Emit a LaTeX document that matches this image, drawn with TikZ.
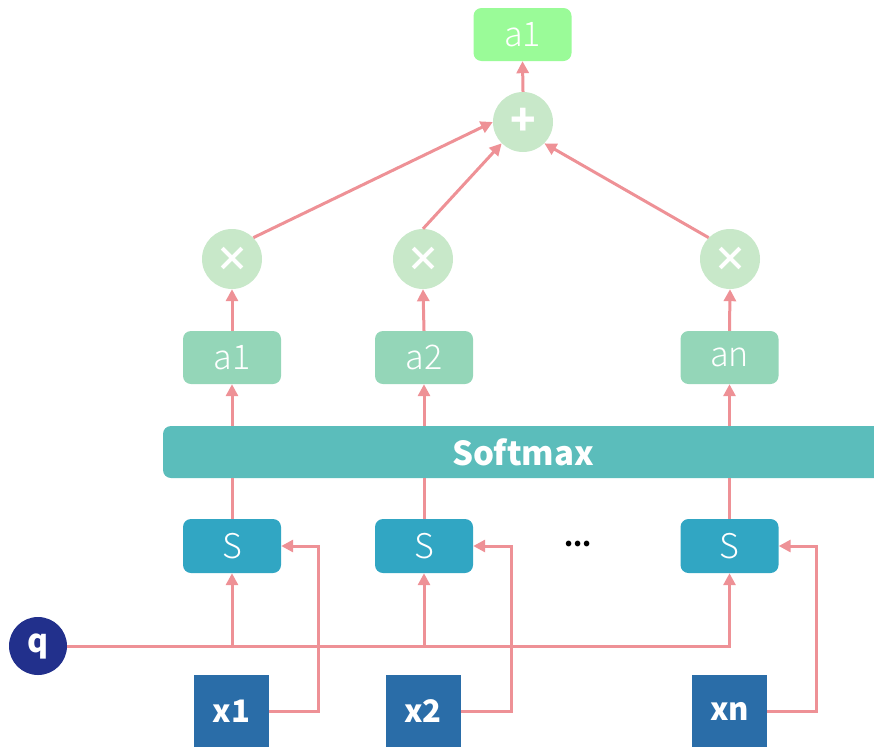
\documentclass[tikz,border=0pt]{standalone}
\usepackage{fontspec}
\setmainfont{Noto Sans CJK SC}
\newfontfamily\lightf{Noto Sans CJK SC Light}
\usetikzlibrary{arrows.meta,calc}
\definecolor{topgreen}{HTML}{9AFB98}
\definecolor{opgreen}{HTML}{C8E8C9}
\definecolor{wgreen}{HTML}{94D6B8}
\definecolor{smteal}{HTML}{5BBDBB}
\definecolor{scoreblue}{HTML}{31A6C3}
\definecolor{inblue}{HTML}{2A6DA8}
\definecolor{qnavy}{HTML}{22308C}
\definecolor{linkpink}{HTML}{EE9196}
\begin{document}
\begin{tikzpicture}[x=1pt,y=-1pt,
  lbox/.style={rectangle,rounded corners=8pt,minimum width=98pt,minimum height=53pt,inner sep=0pt,text=white,font=\lightf\fontsize{34}{36}\selectfont},
  opnode/.style={circle,fill=opgreen,minimum size=60pt,inner sep=0pt,text=white,font=\bfseries\fontsize{34}{36}\selectfont},
  inbox/.style={rectangle,fill=inblue,minimum width=75pt,minimum height=72pt,inner sep=0pt,text=white,font=\bfseries\fontsize{31}{33}\selectfont},
  link/.style={draw=linkpink,line width=3pt},
  arr/.style={link,-{Triangle[length=12pt,width=12pt]}}]
\useasboundingbox (0,0) rectangle (874,747);

% output, sum and products
\node[lbox,fill=topgreen] (out) at (522.5,34.5) {a1};
\node[opnode,font=\bfseries\fontsize{42}{44}\selectfont] (sum) at (523,122) {+};
\node[opnode] (m1) at (232,259) {×};
\node[opnode] (m2) at (423,259) {×};
\node[opnode] (m3) at (730,259) {×};

% attention weights
\node[lbox,fill=wgreen] (a1) at (232,357.5) {a1};
\node[lbox,fill=wgreen] (a2) at (424,357.5) {a2};
\node[lbox,fill=wgreen] (an) at (729.5,357.5) {an};

% softmax bar running off the right edge
\node[rectangle,rounded corners=8pt,fill=smteal,minimum width=737pt,minimum height=52pt,inner sep=0pt] (soft) at (531.5,452) {};
\node[text=white,font=\bfseries\fontsize{33}{35}\selectfont] (softlbl) at (523,452) {Softmax};

% scores
\node[lbox,fill=scoreblue,minimum height=54pt] (s1) at (232,546) {S};
\node[lbox,fill=scoreblue,minimum height=54pt] (s2) at (424,546) {S};
\node[lbox,fill=scoreblue,minimum height=54pt] (s3) at (729.5,546) {S};
\node[font=\bfseries\fontsize{26}{28}\selectfont] (dots) at (578,544) {...};

% query and inputs
\node[circle,fill=qnavy,minimum size=58pt,inner sep=0pt,text=white,font=\bfseries\fontsize{32}{34}\selectfont] (q) at (38,646) {q};
\node[inbox] (x1) at (231.5,711) {x1};
\node[inbox] (x2) at (423,711) {x2};
\node[inbox] (xn) at (729.5,711) {xn};

% query line and its branches
\coordinate (j1) at (s1 |- q);
\coordinate (j2) at (s2 |- q);
\coordinate (j3) at (s3 |- q);
\draw[arr] (q.east) -- (j3) -- (s3.south);
\draw[arr] (j1) -- (s1.south);
\draw[arr] (j2) -- (s2.south);

% key inputs into the scores
\draw[arr] (x1.east) -- ++(49,0) |- (s1.east);
\draw[arr] (x2.east) -- ++(50.5,0) |- (s2.east);
\draw[arr] (xn.east) -- ++(49,0) |- (s3.east);

% scores through softmax
\foreach \s/\a in {s1/a1,s2/a2,s3/an}{
  \draw[link] (\s.north) -- (\s.north |- soft.south);
  \draw[arr] (\a.south |- soft.north) -- (\a.south);
}
\draw[arr] (a1.north) -- (m1.south);
\draw[arr] (a2.north) -- (m2.south);
\draw[arr] (an.north) -- (m3.south);

% products into the sum
\draw[arr] (m1.north east) -- (sum.west);
\draw[arr] (m2.north) -- (sum.south west);
\draw[arr] (m3.north west) -- (sum.south east);
\draw[arr] (sum.north) -- (out.south);
\end{tikzpicture}
\end{document}
